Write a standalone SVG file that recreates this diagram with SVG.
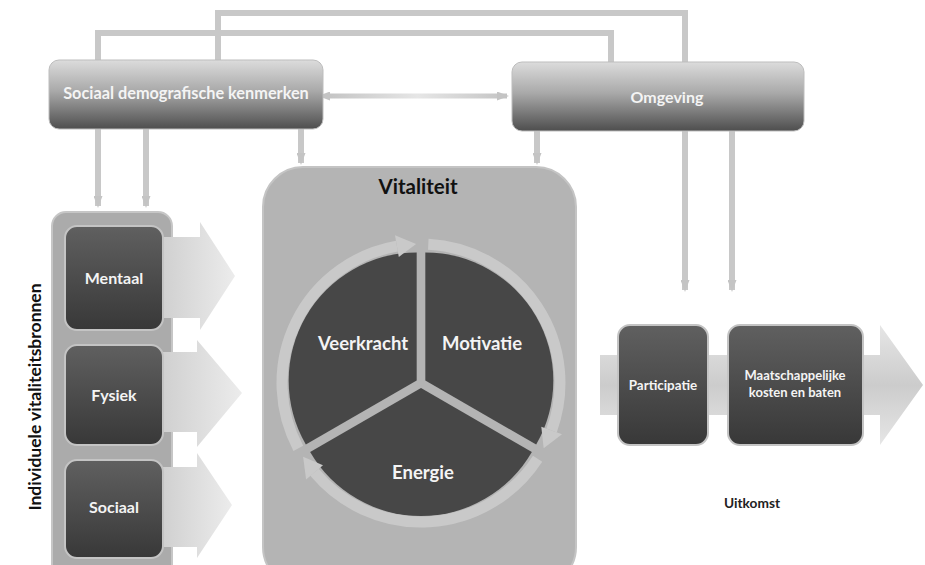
<svg xmlns="http://www.w3.org/2000/svg" width="925" height="565" viewBox="0 0 925 565">
<defs>
<linearGradient id="gTop" x1="0" y1="0" x2="0" y2="1">
<stop offset="0" stop-color="#dcdcdc"/><stop offset="0.45" stop-color="#a9a9a9"/><stop offset="1" stop-color="#4e4e4e"/>
</linearGradient>
<linearGradient id="gDark" x1="0" y1="0" x2="0" y2="1">
<stop offset="0" stop-color="#606060"/><stop offset="1" stop-color="#383838"/>
</linearGradient>
<linearGradient id="gBig" x1="0" y1="0" x2="1" y2="0">
<stop offset="0" stop-color="#cfcfcf"/><stop offset="1" stop-color="#ececec"/>
</linearGradient>
<linearGradient id="gBigV" x1="0" y1="0" x2="0" y2="1">
<stop offset="0" stop-color="#e6e6e6"/><stop offset="0.5" stop-color="#cccccc"/><stop offset="1" stop-color="#e6e6e6"/>
</linearGradient>
<linearGradient id="gH" gradientUnits="userSpaceOnUse" x1="328" y1="0" x2="507" y2="0">
<stop offset="0" stop-color="#c4c4c4"/><stop offset="0.5" stop-color="#e6e6e6"/><stop offset="1" stop-color="#c4c4c4"/>
</linearGradient>
<marker id="ah" viewBox="0 0 12 9" refX="10" refY="4.5" markerWidth="12" markerHeight="9" markerUnits="userSpaceOnUse" orient="auto">
<path d="M0,0 L12,4.5 L0,9 Z" fill="#c4c4c4"/>
</marker>
<marker id="ahs" viewBox="0 0 12 9" refX="2" refY="4.5" markerWidth="12" markerHeight="9" markerUnits="userSpaceOnUse" orient="auto-start-reverse">
<path d="M0,0 L12,4.5 L0,9 Z" fill="#c4c4c4"/>
</marker>
</defs>
<style>
.conn{fill:none;stroke:#c8c8c8;stroke-width:6}
.topbox{fill:url(#gTop);stroke:#bdbdbd;stroke-width:1}
.dark{fill:url(#gDark);stroke:#c4c4c4;stroke-width:2}
.big{fill:url(#gBig)}
.lbl{font-family:Lato,"Open Sans",sans-serif;font-weight:bold;text-anchor:middle}
.wt{fill:#f4f4f4}
.ring{fill:none;stroke:#c9c9c9;stroke-width:11}
.ringhead{fill:#c9c9c9}
.sector{fill:#474747}
</style>
<rect width="925" height="565" fill="#ffffff"/>

<g id="connectors">
<path class="conn" d="M611,62 V33 H98 V206" marker-end="url(#ah)"/>
<path class="conn" d="M218,60 V13 H685 V290" marker-end="url(#ah)"/>
<path class="conn" d="M146,129 V206" marker-end="url(#ah)"/>
<path class="conn" d="M301,129 V163" marker-end="url(#ah)"/>
<path class="conn" d="M537,131 V163" marker-end="url(#ah)"/>
<path class="conn" d="M732,131 V290" marker-end="url(#ah)"/>
<path d="M328,96 H507" stroke="url(#gH)" stroke-width="5" fill="none" marker-start="url(#ahs)" marker-end="url(#ah)"/>
</g>

<g id="sociaal-demografisch">
<rect class="topbox" x="49" y="60" width="274" height="69" rx="10"/>
<text class="lbl wt" x="186" y="99" font-size="16.3">Sociaal demografische kenmerken</text>
</g>

<g id="omgeving">
<rect class="topbox" x="512" y="62" width="292" height="69" rx="10"/>
<text class="lbl wt" x="667" y="103" font-size="16">Omgeving</text>
</g>

<g id="individuele">
<rect x="52" y="212" width="120" height="370" rx="14" fill="#ababab" stroke="#c6c6c6" stroke-width="2"/>
<path class="big" d="M160,237 H200 V222 L235,276 L200,330 V318 H160 Z"/>
<path class="big" d="M160,352 H197 V340 L242,393 L197,447 V432 H160 Z"/>
<path class="big" d="M160,467 H197 V453 L232,505 L197,558 V547 H160 Z"/>
<text class="lbl" x="0" y="0" font-size="17.5" fill="#111" transform="translate(41,397) rotate(-90)">Individuele vitaliteitsbronnen</text>
</g>

<g id="mentaal">
<rect class="dark" x="65" y="226" width="98" height="104" rx="12"/>
<text class="lbl wt" x="114" y="284" font-size="16">Mentaal</text>
</g>
<g id="fysiek">
<rect class="dark" x="65" y="345" width="98" height="100" rx="12"/>
<text class="lbl wt" x="114" y="401" font-size="16">Fysiek</text>
</g>
<g id="sociaal">
<rect class="dark" x="65" y="460" width="98" height="98" rx="12"/>
<text class="lbl wt" x="114" y="513" font-size="16">Sociaal</text>
</g>

<g id="vitaliteit">
<rect x="263" y="167" width="313" height="420" rx="40" fill="#b4b4b4" stroke="#c4c4c4" stroke-width="2"/>
<text class="lbl" x="418" y="194" font-size="20.5" fill="#111">Vitaliteit</text>
</g>

<g id="veerkracht">
<path class="sector" d="M416.67,380.5 L305.82,444.5 A128,128 0 0 1 416.67,252.5 Z"/>
<path class="ring" d="M298.3,448.3 A139,139 0 0 1 396.9,246.1"/>
<path class="ringhead" d="M398.8,256.9 L395.0,235.3 L416.1,244.1 Z"/>
<text class="lbl wt" x="363" y="350" font-size="18.5">Veerkracht</text>
</g>
<g id="motivatie">
<path class="sector" d="M425.33,380.5 L425.33,252.5 A128,128 0 0 1 536.18,444.5 Z"/>
<path class="ring" d="M428.3,244.2 A139,139 0 0 1 551.6,430.5"/>
<path class="ringhead" d="M541.3,426.8 L562.0,434.3 L543.7,448.3 Z"/>
<text class="lbl wt" x="482" y="350" font-size="18.5">Motivatie</text>
</g>
<g id="energie">
<path class="sector" d="M421,388 L531.85,452 A128,128 0 0 1 310.15,452 Z"/>
<path class="ring" d="M537.6,458.7 A139,139 0 0 1 314.5,472.3"/>
<path class="ringhead" d="M323.0,465.3 L306.1,479.4 L303.1,456.7 Z"/>
<text class="lbl wt" x="423" y="479" font-size="18.5">Energie</text>
</g>

<g id="uitkomst-arrow">
<path d="M600,355 H880 V325 L923,385 L880,445 V415 H600 Z" fill="url(#gBigV)"/>
<text class="lbl" x="752" y="508" font-size="13.7" fill="#222">Uitkomst</text>
</g>
<g id="participatie">
<rect class="dark" x="618" y="325" width="90" height="120" rx="12"/>
<text class="lbl wt" x="663" y="390" font-size="13.4">Participatie</text>
</g>
<g id="maatschappelijke">
<rect class="dark" x="728" y="325" width="135" height="120" rx="12"/>
<text class="lbl wt" x="795" y="380" font-size="13">Maatschappelijke</text>
<text class="lbl wt" x="795" y="397" font-size="13">kosten en baten</text>
</g>
</svg>
